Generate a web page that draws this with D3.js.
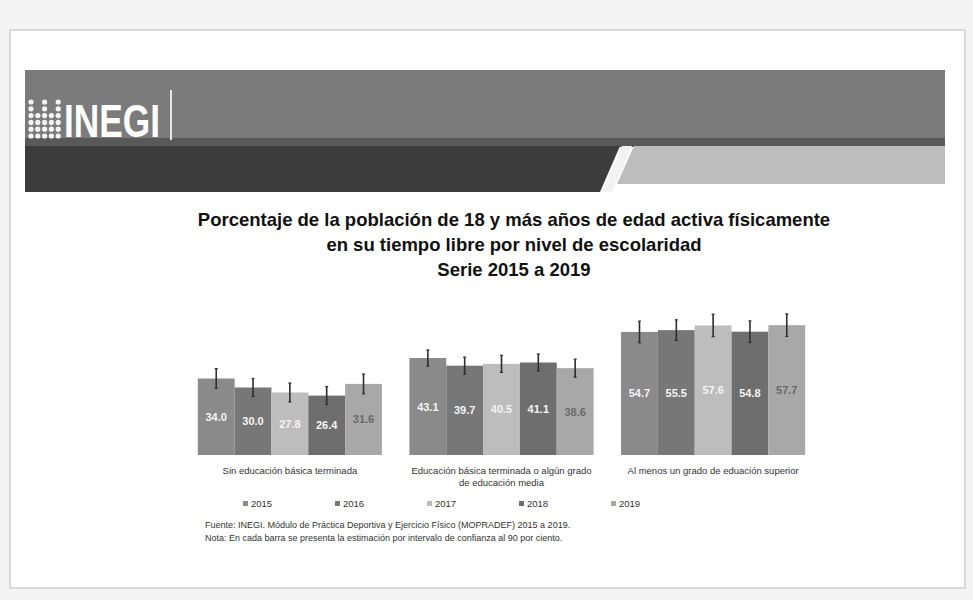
<!DOCTYPE html>
<html>
<head>
<meta charset="utf-8">
<script src="https://cdn.jsdelivr.net/npm/d3@7"></script>
<style>
  body { margin: 0; background: #f4f4f4; }
  svg { display: block; font-family: "Liberation Sans", Arial, sans-serif; }
</style>
</head>
<body>
<div class="container"></div>
<script>
// datos
var categorias = ["sin", "basica", "superior"];
var etiquetas = [
  ["Sin educación básica terminada"],
  ["Educación básica terminada o algún grado", "de educación media"],
  ["Al menos un grado de eduación superior"]
];
var anios = ["2015", "2016", "2017", "2018", "2019"];

var v2015 = [34.0, 43.1, 54.7];
var v2016 = [30.0, 39.7, 55.5];
var v2017 = [27.8, 40.5, 57.6];
var v2018 = [26.4, 41.1, 54.8];
var v2019 = [31.6, 38.6, 57.7];

// semiamplitud del intervalo de confianza (estimada)
var e2015 = [4.4, 3.6, 4.8];
var e2016 = [4.0, 3.8, 4.6];
var e2017 = [4.2, 3.8, 5.0];
var e2018 = [4.0, 3.8, 4.8];
var e2019 = [4.4, 4.0, 5.0];

var series = [v2015, v2016, v2017, v2018, v2019];
var errores = [e2015, e2016, e2017, e2018, e2019];

var Data = [];
categorias.forEach(function(c, i) {
  anios.forEach(function(a, j) {
    Data.push({cat: c, anio: a, valor: series[j][i], err: errores[j][i]});
  });
});

// lienzo
var main_svg_w = 973;
var main_svg_h = 600;

var svg = d3.select(".container")
            .append("svg")
            .attr("width", main_svg_w)
            .attr("height", main_svg_h);

// hoja / diapositiva
svg.append("rect")
   .attr("x", 10).attr("y", 30)
   .attr("width", 955).attr("height", 558)
   .style("fill", "#ffffff")
   .style("stroke", "#cfcfcf")
   .style("stroke-width", 1.5);

// encabezado INEGI
var head = svg.append("g").attr("class", "header");
head.append("rect")
    .attr("x", 25).attr("y", 70).attr("width", 920).attr("height", 70)
    .style("fill", "#7b7b7b");
head.append("rect")
    .attr("x", 25).attr("y", 138).attr("width", 920).attr("height", 9)
    .style("fill", "#595959");
head.append("path")
    .attr("d", "M25,146 L620,146 L600,192 L25,192 Z")
    .style("fill", "#3c3c3c");
head.append("path")
    .attr("d", "M622,146 L632,146 L612,192 L602,192 Z")
    .style("fill", "#f2f2f2");
head.append("path")
    .attr("d", "M634,146 L945,146 L945,184 L617,184 Z")
    .style("fill", "#bdbdbd");

// puntos del logotipo
var puntos = [];
for (var r = 0; r < 6; r++) {
  for (var k = 0; k < 5; k++) {
    if (r > 1 || k % 2 == 0) puntos.push([k, r]);
  }
}
head.selectAll("circle")
    .data(puntos)
    .enter()
    .append("circle")
    .attr("cx", function(d) { return 31 + d[0] * 6.8; })
    .attr("cy", function(d) { return 102 + d[1] * 6.8; })
    .attr("r", 2.6)
    .style("fill", "#f4f4f4");

head.append("text")
    .attr("x", 64).attr("y", 137)
    .attr("textLength", 96)
    .attr("lengthAdjust", "spacingAndGlyphs")
    .style("font-weight", "bold")
    .style("font-size", "46px")
    .style("fill", "#ffffff")
    .text("INEGI");

head.append("line")
    .attr("x1", 171).attr("x2", 171).attr("y1", 90).attr("y2", 140)
    .style("stroke", "#e8e8e8").style("stroke-width", 2);

// titulo
var titulo = ["Porcentaje de la población de 18 y más años de edad activa físicamente",
              "en su tiempo libre por nivel de escolaridad",
              "Serie 2015 a 2019"];
svg.append("g")
   .selectAll("text")
   .data(titulo)
   .enter()
   .append("text")
   .attr("x", 514)
   .attr("y", function(d, i) { return 226 + i * 25; })
   .style("text-anchor", "middle")
   .style("font-weight", "bold")
   .style("font-size", "18.5px")
   .style("fill", "#111")
   .text(function(d) { return d; });

// escalas
var x0 = d3.scaleBand()
           .domain(categorias)
           .range([183, 820])
           .paddingInner(0.13)
           .paddingOuter(0.07);

var x1 = d3.scaleBand()
           .domain(anios)
           .range([0, x0.bandwidth()]);

var y = d3.scaleLinear()
          .domain([0, 60])
          .range([455, 320]);

var color = d3.scaleOrdinal()
              .domain(anios)
              .range(["#8a8a8a", "#777777", "#bdbdbd", "#6e6e6e", "#a8a8a8"]);

var vis = svg.append("g").attr("class", "chart");

var barras = vis.selectAll(".barra")
                .data(Data)
                .enter()
                .append("g")
                .attr("class", "barra")
                .attr("transform", function(d) { return "translate(" + (x0(d.cat) + x1(d.anio)) + ",0)"; });

barras.append("rect")
      .attr("x", 0)
      .attr("y", function(d) { return y(d.valor); })
      .attr("width", x1.bandwidth())
      .attr("height", function(d) { return y(0) - y(d.valor); })
      .style("fill", function(d) { return color(d.anio); });

// etiquetas de valor
barras.append("text")
      .attr("x", x1.bandwidth() / 2)
      .attr("y", function(d) { return (y(d.valor) + y(0)) / 2 + 4; })
      .style("text-anchor", "middle")
      .style("font-size", "11px")
      .style("font-weight", "bold")
      .style("fill", function(d) { return d.anio == "2019" ? "#6a6a6a" : "#f4f4f4"; })
      .text(function(d) { return d.valor.toFixed(1); });

// intervalos de confianza
barras.append("line")
      .attr("x1", x1.bandwidth() / 2).attr("x2", x1.bandwidth() / 2)
      .attr("y1", function(d) { return y(d.valor + d.err); })
      .attr("y2", function(d) { return y(d.valor - d.err); })
      .style("stroke", "#2e2e2e").style("stroke-width", 1.6);
barras.append("line")
      .attr("x1", x1.bandwidth() / 2 - 1.5).attr("x2", x1.bandwidth() / 2 + 1.5)
      .attr("y1", function(d) { return y(d.valor + d.err); })
      .attr("y2", function(d) { return y(d.valor + d.err); })
      .style("stroke", "#2e2e2e").style("stroke-width", 1.2);
barras.append("line")
      .attr("x1", x1.bandwidth() / 2 - 1.5).attr("x2", x1.bandwidth() / 2 + 1.5)
      .attr("y1", function(d) { return y(d.valor - d.err); })
      .attr("y2", function(d) { return y(d.valor - d.err); })
      .style("stroke", "#2e2e2e").style("stroke-width", 1.2);

// eje de categorias
vis.selectAll(".cat")
   .data(categorias)
   .enter()
   .append("text")
   .attr("class", "cat")
   .attr("transform", function(d) { return "translate(" + (x0(d) + x0.bandwidth() / 2) + ",474)"; })
   .style("text-anchor", "middle")
   .style("font-size", "9.5px")
   .style("fill", "#333")
   .selectAll("tspan")
   .data(function(d, i) { return etiquetas[i]; })
   .enter()
   .append("tspan")
   .attr("x", 0)
   .attr("dy", function(d, i) { return i == 0 ? 0 : 12; })
   .text(function(d) { return d; });

// leyenda
var legend = svg.append("g")
                .attr("class", "legend")
                .attr("transform", "translate(243,507)");

var item = legend.selectAll(".legend-item")
                 .data(anios)
                 .enter()
                 .append("g")
                 .attr("class", "legend-item")
                 .attr("transform", function(d, i) { return "translate(" + i * 92 + ",0)"; });

item.append("rect")
    .attr("x", 0).attr("y", -6)
    .attr("width", 5).attr("height", 5)
    .style("fill", color);

item.append("text")
    .attr("x", 8).attr("y", 0)
    .style("font-size", "9.5px")
    .style("fill", "#333")
    .text(function(d) { return d; });

// notas
var notas = ["Fuente: INEGI. Módulo de Práctica Deportiva y Ejercicio Físico (MOPRADEF) 2015 a 2019.",
             "Nota: En cada barra se presenta la estimación por intervalo de confianza al 90 por ciento."];
svg.append("g")
   .selectAll("text")
   .data(notas)
   .enter()
   .append("text")
   .attr("x", 205)
   .attr("y", function(d, i) { return 528 + i * 13; })
   .style("font-size", "9px")
   .style("fill", "#333")
   .text(function(d) { return d; });
</script>
</body>
</html>
